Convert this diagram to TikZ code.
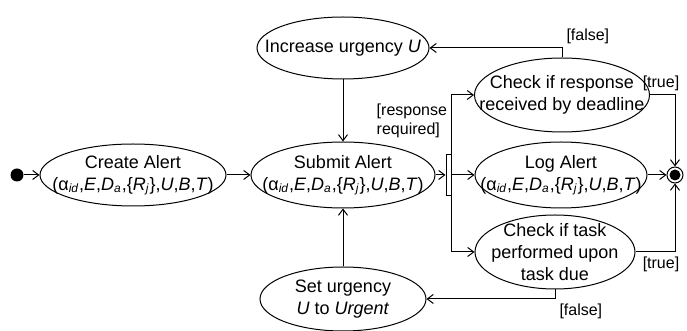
\documentclass[tikz,border=0pt]{standalone}
\usepackage{fontspec}
\setmainfont{Liberation Sans}
\usetikzlibrary{shapes.geometric, arrows.meta}

\newcommand{\alertargs}{(α\textsubscript{\itshape id},\textit{E},\textit{D}\textsubscript{\itshape a},\{\textit{R}\textsubscript{\itshape j}\},\textit{U},\textit{B},\textit{T})}

\begin{document}
\begin{tikzpicture}[x=0.5pt, y=-0.5pt, line width=0.5pt,
    act/.style={ellipse, draw, align=center, inner sep=-40pt, font=\fontsize{9}{11}\selectfont},
    guard/.style={font=\fontsize{8}{9.5}\selectfont, inner sep=2pt},
    flow/.style={-{Straight Barb[length=3pt, width=4.5pt]}}]
    \useasboundingbox (0,0) rectangle (687,331);

    \node[circle, fill, minimum size=6.5pt, inner sep=0pt] (start) at (17,175) {};
    \node[act, minimum width=93pt, minimum height=31pt] (create) at (133,175) {Create Alert\\\alertargs};
    \node[act, minimum width=92pt, minimum height=33pt] (submit) at (343,175) {Submit Alert\\\alertargs};
    \node[act, minimum width=86pt, minimum height=31pt] (increase) at (343,48) {Increase urgency \textit{U}};
    \node[act, minimum width=83pt, minimum height=32pt] (seturgent) at (343,299) {Set urgency\\\textit{U} to \textit{Urgent}};
    \node[draw, rectangle, minimum width=2.5pt, minimum height=20.5pt, inner sep=0pt] (fork) at (448.5,175) {};
    \node[act, minimum width=87.5pt, minimum height=37pt] (checkresp) at (562,95) {Check if response\\received by deadline};
    \node[act, minimum width=86pt, minimum height=33pt] (log) at (561,175) {Log Alert\\\alertargs};
    \node[act, minimum width=80pt, minimum height=37pt] (checktask) at (555,252) {Check if task\\performed upon\\task due};
    \node[circle, draw, minimum size=8pt, inner sep=0pt,
        path picture={\fill (path picture bounding box.center) circle (2.75pt);}] (final) at (675,175) {};

    \draw[flow] (start) -- (create);
    \draw[flow] (create) -- (submit);
    \draw[flow] (increase) -- (submit);
    \draw[flow] (seturgent) -- (submit);
    \draw[flow] (submit) -- (fork);
    \draw[flow] (fork) -- (log);
    \draw[flow] (fork.north east) |- node[guard, pos=0.28, left, align=left] {[response\\required]} (checkresp.west);
    \draw[flow] (fork.south east) |- (checktask.west);
    \draw[flow] (log) -- (final);
    \draw[flow] (checkresp.north) |- node[guard, pos=0.5, above right] {[false]} (increase.east);
    \draw[flow] (checkresp.east) -| node[guard, pos=0.5, above, xshift=-7pt] {[true]} (final.north);
    \draw[flow] (checktask.east) -| node[guard, pos=0.5, below, xshift=-7pt] {[true]} (final.south);
    \draw[flow] (checktask.south) |- node[guard, pos=0.5, below right] {[false]} (seturgent.east);

  \end{tikzpicture}
\end{document}
